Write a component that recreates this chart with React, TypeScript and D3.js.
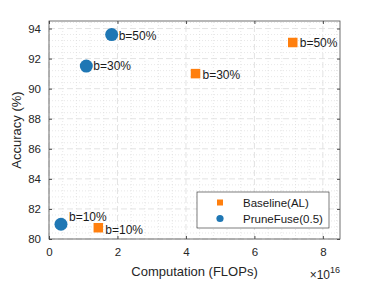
import { useRef, useEffect } from "react";
import * as d3 from "d3";

// values (x in units of 1e16 FLOPs)
const budgets = ["b=10%", "b=30%", "b=50%"];
const baselineFlops = [1.44, 4.28, 7.12];
const baselineAcc = [80.75, 91.0, 93.07];
const pruneFuseFlops = [0.35, 1.09, 1.83];
const pruneFuseAcc = [80.98, 91.5, 93.6];
const xTicks = [0, 2, 4, 6, 8];
const yTicks = [80, 82, 84, 86, 88, 90, 92, 94];
const legendLabels = ["Baseline(AL)", "PruneFuse(0.5)"];

// label offsets (px) relative to marker, per budget
const baselineLabelOffset = [
  [7, 6],
  [7, 5],
  [7, 5],
];
const pruneLabelOffset = [
  [8, -3],
  [7, 4],
  [7, 5],
];

const BLUE = "#1f77b4";
const ORANGE = "#ff7f0e";
const FONT = "'Liberation Sans', Arial, sans-serif";

export default function App() {
  const ref = useRef<SVGSVGElement>(null);
  const width = 375;
  const height = 281;
  const margin = { left: 49, right: 35, top: 21, bottom: 42 };

  useEffect(() => {
    if (!ref.current) return;
    const svg = d3.select(ref.current);
    svg.selectAll("*").remove();

    const x = d3
      .scaleLinear()
      .domain([0, 8.5])
      .range([margin.left, width - margin.right]);
    const y = d3
      .scaleLinear()
      .domain([80, 94.5])
      .range([height - margin.bottom, margin.top]);

    const [x0, x1] = x.range();
    const [y0, y1] = y.range();

    svg
      .append("rect")
      .attr("x", x0)
      .attr("y", y1)
      .attr("width", x1 - x0)
      .attr("height", y0 - y1)
      .attr("fill", "#fff");

    // minor grid (dotted)
    const xMinor = d3.range(0, 8.5, 0.4).filter((v) => Math.abs(v / 2 - Math.round(v / 2)) > 1e-6);
    const yMinor = d3.range(80, 94.5, 0.4).filter((v) => Math.abs(v / 2 - Math.round(v / 2)) > 1e-6);
    const grid = svg.append("g");
    grid
      .selectAll(".xm")
      .data(xMinor)
      .join("line")
      .attr("x1", (d) => x(d))
      .attr("x2", (d) => x(d))
      .attr("y1", y0)
      .attr("y2", y1)
      .attr("stroke", "#d6d6d6")
      .attr("stroke-width", 0.6)
      .attr("stroke-dasharray", "1,2");
    grid
      .selectAll(".ym")
      .data(yMinor)
      .join("line")
      .attr("y1", (d) => y(d))
      .attr("y2", (d) => y(d))
      .attr("x1", x0)
      .attr("x2", x1)
      .attr("stroke", "#d6d6d6")
      .attr("stroke-width", 0.6)
      .attr("stroke-dasharray", "1,2");

    // major grid (dashed)
    grid
      .selectAll(".xg")
      .data(xTicks)
      .join("line")
      .attr("x1", (d) => x(d))
      .attr("x2", (d) => x(d))
      .attr("y1", y0)
      .attr("y2", y1)
      .attr("stroke", "#e0e0e0")
      .attr("stroke-width", 0.9)
      .attr("stroke-dasharray", "6,3");
    grid
      .selectAll(".yg")
      .data(yTicks)
      .join("line")
      .attr("y1", (d) => y(d))
      .attr("y2", (d) => y(d))
      .attr("x1", x0)
      .attr("x2", x1)
      .attr("stroke", "#e0e0e0")
      .attr("stroke-width", 0.9)
      .attr("stroke-dasharray", "6,3");

    // axes with inward ticks
    const axisStyle = (g: d3.Selection<SVGGElement, unknown, null, undefined>) => {
      g.select(".domain").remove();
      g.selectAll(".tick line").attr("stroke", "#4d4d4d");
      g.selectAll(".tick text")
        .attr("fill", "#262626")
        .style("font-family", FONT)
        .style("font-size", "11.5px");
    };
    svg
      .append("g")
      .attr("transform", `translate(0,${y0})`)
      .call(d3.axisBottom(x).tickValues(xTicks).tickSize(-3).tickPadding(9).tickFormat(d3.format("d")))
      .call(axisStyle);
    svg
      .append("g")
      .attr("transform", `translate(${x0},0)`)
      .call(d3.axisLeft(y).tickValues(yTicks).tickSize(-3).tickPadding(8).tickFormat(d3.format("d")))
      .call(axisStyle);
    svg
      .append("g")
      .attr("transform", `translate(0,${y1})`)
      .call(d3.axisTop(x).tickValues(xTicks).tickSize(-3).tickFormat(() => ""))
      .call(axisStyle);
    svg
      .append("g")
      .attr("transform", `translate(${x1},0)`)
      .call(d3.axisRight(y).tickValues(yTicks).tickSize(-3).tickFormat(() => ""))
      .call(axisStyle);

    svg
      .append("rect")
      .attr("x", x0)
      .attr("y", y1)
      .attr("width", x1 - x0)
      .attr("height", y0 - y1)
      .attr("fill", "none")
      .attr("stroke", "#4d4d4d")
      .attr("stroke-width", 0.8);

    // baseline squares
    const sq = 9.5;
    svg
      .append("g")
      .selectAll("rect")
      .data(baselineFlops)
      .join("rect")
      .attr("x", (d) => x(d) - sq / 2)
      .attr("y", (_, i) => y(baselineAcc[i]) - sq / 2)
      .attr("width", sq)
      .attr("height", sq)
      .attr("fill", ORANGE);

    // prunefuse circles
    svg
      .append("g")
      .selectAll("circle")
      .data(pruneFuseFlops)
      .join("circle")
      .attr("cx", (d) => x(d))
      .attr("cy", (_, i) => y(pruneFuseAcc[i]))
      .attr("r", 6.5)
      .attr("fill", BLUE);

    const labelStyle = (t: d3.Selection<SVGTextElement, number, SVGGElement, unknown>) =>
      t
        .attr("fill", "#1a1a1a")
        .style("font-family", FONT)
        .style("font-size", "12px")
        .text((_, i) => budgets[i]);

    svg
      .append("g")
      .selectAll("text")
      .data(baselineFlops)
      .join("text")
      .attr("x", (d, i) => x(d) + baselineLabelOffset[i][0])
      .attr("y", (_, i) => y(baselineAcc[i]) + baselineLabelOffset[i][1])
      .call(labelStyle);
    svg
      .append("g")
      .selectAll("text")
      .data(pruneFuseFlops)
      .join("text")
      .attr("x", (d, i) => x(d) + pruneLabelOffset[i][0])
      .attr("y", (_, i) => y(pruneFuseAcc[i]) + pruneLabelOffset[i][1])
      .call(labelStyle);

    // legend
    const lg = svg.append("g").attr("transform", "translate(197,192)");
    lg.append("rect")
      .attr("width", 132)
      .attr("height", 36)
      .attr("fill", "#fff")
      .attr("stroke", "#262626")
      .attr("stroke-width", 0.6);
    lg.append("rect").attr("x", 20).attr("y", 7.5).attr("width", 6).attr("height", 6).attr("fill", ORANGE);
    lg.append("circle").attr("cx", 23).attr("cy", 26.5).attr("r", 3.6).attr("fill", BLUE);
    lg.selectAll("text")
      .data(legendLabels)
      .join("text")
      .attr("x", 46)
      .attr("y", (_, i) => 14.5 + i * 16.5)
      .attr("fill", "#1a1a1a")
      .style("font-family", FONT)
      .style("font-size", "11.5px")
      .text((d) => d);

    // axis labels
    svg
      .append("text")
      .attr("x", (x0 + x1) / 2)
      .attr("y", 276)
      .attr("text-anchor", "middle")
      .attr("fill", "#262626")
      .style("font-family", FONT)
      .style("font-size", "13px")
      .text("Computation (FLOPs)");
    const mult = svg
      .append("text")
      .attr("x", x1)
      .attr("y", 279)
      .attr("text-anchor", "end")
      .attr("fill", "#262626")
      .style("font-family", FONT)
      .style("font-size", "12px");
    mult.append("tspan").text("\u00d710");
    mult.append("tspan").attr("dy", -6).style("font-size", "9px").text("16");

    svg
      .append("text")
      .attr("transform", `translate(21,${(y0 + y1) / 2}) rotate(-90)`)
      .attr("text-anchor", "middle")
      .attr("fill", "#262626")
      .style("font-family", FONT)
      .style("font-size", "13px")
      .text("Accuracy (%)");
  }, []);

  return (
    <svg
      ref={ref}
      width={width}
      height={height}
      style={{ position: "absolute", left: 0, top: 0 }}
    />
  );
}
